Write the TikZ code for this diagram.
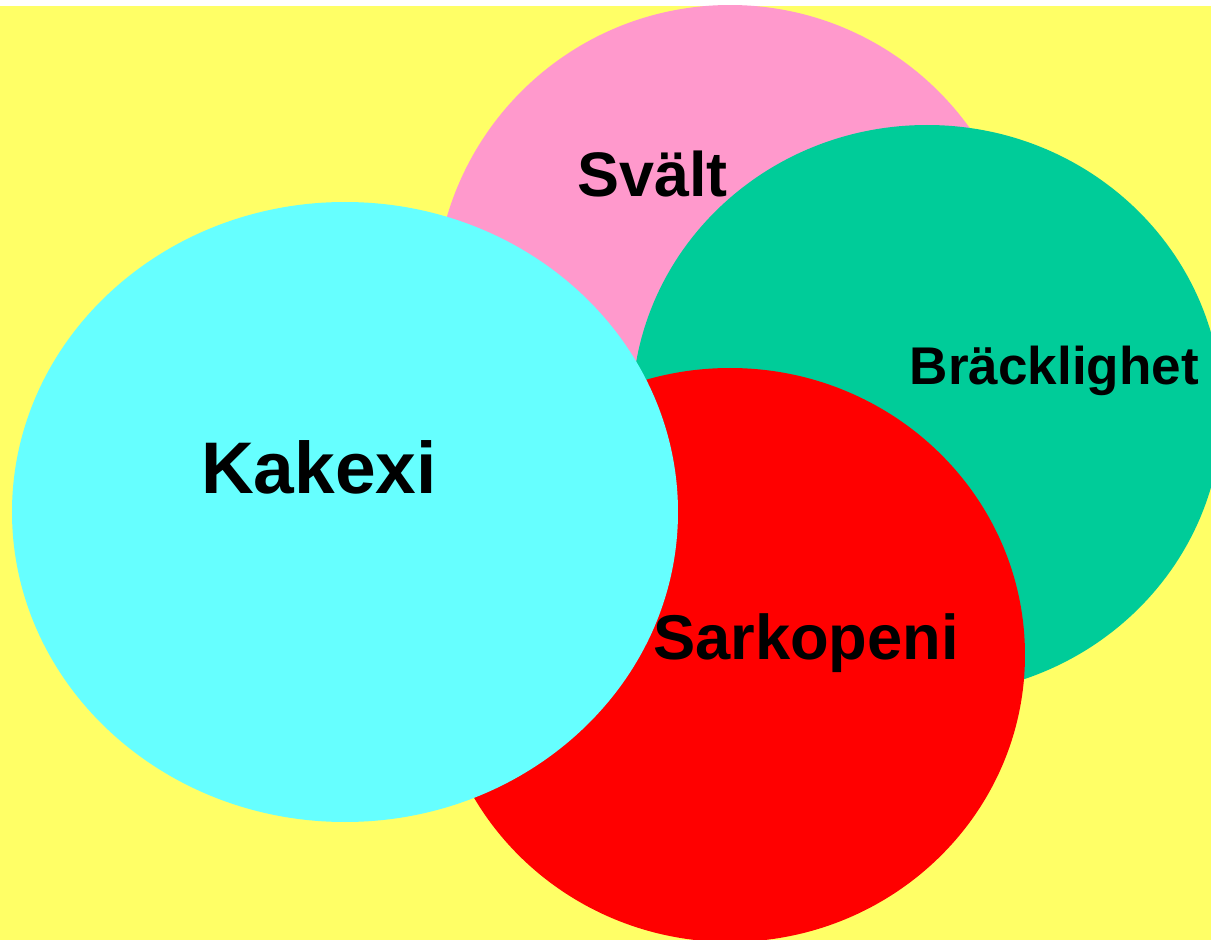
\documentclass[tikz,border=0pt]{standalone}
\usepackage{fontspec}
\setmainfont{Liberation Sans}
\usepackage{tikz}
\usetikzlibrary{positioning}
\definecolor{vyellow}{HTML}{FFFF66}
\definecolor{vpink}{HTML}{FF99CC}
\definecolor{vgreen}{HTML}{00CC99}
\definecolor{vred}{HTML}{FF0000}
\definecolor{vcyan}{HTML}{66FFFF}

\tikzset{label/.style={anchor=base, inner sep=0pt, font=\bfseries}}

\begin{document}
\begin{tikzpicture}
        % background
        \useasboundingbox (0,0) rectangle (12.11,9.40);
        \clip (0,0) rectangle (12.11,9.40);
        \fill[white] (0,0) rectangle (12.11,9.40);
        \fill[vyellow] (0,0) rectangle (12.11,9.34);
        
        % svält
        \draw[draw=none, fill=vpink] (7.30,6.40) ellipse[x radius=2.95, y radius=2.95];
        % bräcklighet
        \draw[draw=none, fill=vgreen] (9.27,5.30) ellipse[x radius=2.95, y radius=2.85];
        % sarkopeni
        \draw[draw=none, fill=vred] (7.30,2.85) ellipse[x radius=2.95, y radius=2.87];
        % kakexi
        \draw[draw=none, fill=vcyan] (3.45,4.28) ellipse[x radius=3.33, y radius=3.10];
        
        % labels
        \node[label, font=\bfseries\fontsize{17.9}{21}\selectfont] (svalt) at (6.525,7.44) {Svält};
        \node[label, font=\bfseries\fontsize{15.1}{18}\selectfont] (brack) at (10.545,5.55) {Bräcklighet};
        \node[label, font=\bfseries\fontsize{18}{21}\selectfont] (sarko) at (8.06,2.80) {Sarkopeni};
        \node[label, font=\bfseries\fontsize{20.8}{24}\selectfont] (kakexi) at (3.19,4.47) {Kakexi};
        
%        \draw[help lines, step=0.5] (0,0) grid (12.11,9.40);
    \end{tikzpicture}
\end{document}
